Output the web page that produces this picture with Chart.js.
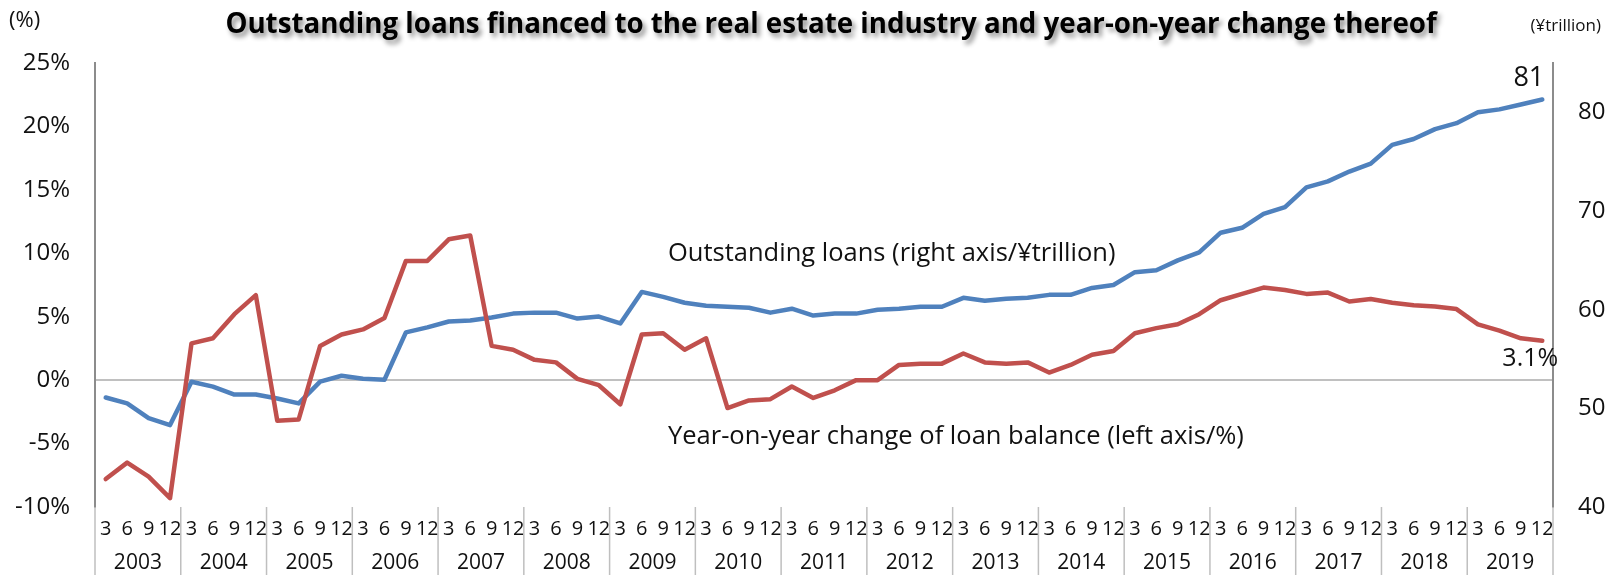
<!DOCTYPE html>
<html>
<head>
<meta charset="utf-8">
<title>Outstanding loans to real estate</title>
<script src="https://cdn.jsdelivr.net/npm/chart.js@4.4.1/dist/chart.umd.min.js"></script>
<style>
  body { margin: 0; background: #fff; }
  #wrap { position: relative; width: 1619px; height: 575px; }
</style>
</head>
<body>
<div id="wrap"><canvas id="loanChart"></canvas></div>
<script>
/* data (quarter ends 3/6/9/12, 2003-2019) */
var years = ['2003','2004','2005','2006','2007','2008','2009','2010','2011','2012','2013','2014','2015','2016','2017','2018','2019'];
var quarters = ['3','6','9','12'];

// year-on-year change of loan balance, % (left axis)
var yoyChange = [
  -7.8, -6.5, -7.6, -9.3,
   2.9,  3.3,  5.2,  6.7,
  -3.2, -3.1,  2.7,  3.6,
   4.0,  4.9,  9.4,  9.4,
  11.1, 11.4,  2.7,  2.4,
   1.6,  1.4,  0.1, -0.4,
  -1.9,  3.6,  3.7,  2.4,
   3.3, -2.2, -1.6, -1.5,
  -0.5, -1.4, -0.8,  0.0,
   0.0,  1.2,  1.3,  1.3,
   2.1,  1.4,  1.3,  1.4,
   0.6,  1.2,  2.0,  2.3,
   3.7,  4.1,  4.4,  5.2,
   6.3,  6.8,  7.3,  7.1,
   6.8,  6.9,  6.2,  6.4,
   6.1,  5.9,  5.8,  5.6,
   4.4,  3.9,  3.3,  3.1
];

// outstanding loans, yen trillion (right axis)
var loanBalance = [
  51.1, 50.5, 49.0, 48.3,
  52.7, 52.2, 51.4, 51.4,
  51.0, 50.5, 52.7, 53.3,
  53.0, 52.9, 57.7, 58.2,
  58.8, 58.9, 59.2, 59.6,
  59.7, 59.7, 59.1, 59.3,
  58.6, 61.8, 61.3, 60.7,
  60.4, 60.3, 60.2, 59.7,
  60.1, 59.4, 59.6, 59.6,
  60.0, 60.1, 60.3, 60.3,
  61.2, 60.9, 61.1, 61.2,
  61.5, 61.5, 62.2, 62.5,
  63.8, 64.0, 65.0, 65.8,
  67.8, 68.3, 69.7, 70.4,
  72.4, 73.0, 74.0, 74.8,
  76.7, 77.3, 78.3, 78.9,
  80.0, 80.3, 80.8, 81.3
];

var labels = [];
years.forEach(function(y) {
  quarters.forEach(function(q) { labels.push(y + '/' + q); });
});

var FONT = '"Open Sans", "Noto Sans", sans-serif';
var RED = '#C0504D';
var BLUE = '#4F81BD';

/* titles, line labels, end values and the two-level x axis */
var decorations = {
  id: 'decorations',
  afterDraw: function(chart) {
    var ctx = chart.ctx;
    var area = chart.chartArea;
    var xs = chart.scales.x;
    var yl = chart.scales.y;
    var yr = chart.scales.y1;
    var last = labels.length - 1;

    ctx.save();

    // title with soft shadow
    ctx.save();
    ctx.font = 'bold 27.7px ' + FONT;
    ctx.fillStyle = '#000';
    ctx.textAlign = 'center';
    ctx.textBaseline = 'middle';
    ctx.shadowColor = 'rgba(0,0,0,0.45)';
    ctx.shadowBlur = 5;
    ctx.shadowOffsetX = 3;
    ctx.shadowOffsetY = 4;
    ctx.fillText('Outstanding loans financed to the real estate industry and year-on-year change thereof', 831, 25);
    ctx.restore();

    // axis units
    ctx.fillStyle = '#111';
    ctx.textBaseline = 'middle';
    ctx.font = '22px ' + FONT;
    ctx.textAlign = 'left';
    ctx.fillText('(%)', 9, 21);
    ctx.font = '17px ' + FONT;
    ctx.textAlign = 'right';
    ctx.fillText('(\u00a5trillion)', 1601, 26);

    // series labels
    ctx.font = '25.5px ' + FONT;
    ctx.textAlign = 'left';
    ctx.fillText('Outstanding loans (right axis/\u00a5trillion)', 668, 254);
    ctx.fillText('Year-on-year change of loan balance (left axis/%)', 668, 437);

    // end values
    var bx = xs.getPixelForValue(last);
    var by = yr.getPixelForValue(loanBalance[last]);
    ctx.font = '27px ' + FONT;
    ctx.textAlign = 'right';
    ctx.textBaseline = 'alphabetic';
    ctx.fillText(String(Math.round(loanBalance[last])), bx + 2, by - 14);
    var ry = yl.getPixelForValue(yoyChange[last]);
    ctx.font = '25px ' + FONT;
    ctx.textAlign = 'center';
    ctx.textBaseline = 'middle';
    ctx.fillText(yoyChange[last].toFixed(1) + '%', bx - 12, ry + 18);

    // two-level category axis
    var h = chart.height;
    ctx.strokeStyle = '#bfbfbf';
    ctx.lineWidth = 1.5;
    ctx.textAlign = 'center';
    ctx.font = '20px ' + FONT;
    for (var i = 0; i < labels.length; i++) {
      ctx.fillText(quarters[i % 4], xs.getPixelForValue(i), 529);
    }
    ctx.font = '21px ' + FONT;
    for (var k = 0; k <= years.length; k++) {
      var sx;
      if (k == 0) sx = area.left;
      else if (k == years.length) sx = area.right;
      else sx = (xs.getPixelForValue(4 * k - 1) + xs.getPixelForValue(4 * k)) / 2;
      ctx.beginPath();
      ctx.moveTo(sx, area.bottom);
      ctx.lineTo(sx, h);
      ctx.stroke();
      if (k < years.length) {
        var cx = (xs.getPixelForValue(4 * k) + xs.getPixelForValue(4 * k + 3)) / 2;
        ctx.fillText(years[k], cx, 563);
      }
    }

    ctx.restore();
  }
};

var chart = new Chart(document.getElementById('loanChart'), {
  type: 'line',
  data: {
    labels: labels,
    datasets: [
      {
        label: 'Year-on-year change of loan balance (left axis/%)',
        data: yoyChange,
        yAxisID: 'y',
        borderColor: RED,
        borderWidth: 4.5
      },
      {
        label: 'Outstanding loans (right axis/\u00a5trillion)',
        data: loanBalance,
        yAxisID: 'y1',
        borderColor: BLUE,
        borderWidth: 4.5
      }
    ]
  },
  options: {
    responsive: true,
    maintainAspectRatio: false,
    animation: false,
    layout: { padding: { top: 63, left: 0, right: 0, bottom: 0 } },
    elements: {
      point: { radius: 0, hoverRadius: 0 },
      line: { tension: 0, borderJoinStyle: 'round', borderCapStyle: 'round', fill: false }
    },
    plugins: {
      legend: { display: false },
      tooltip: { enabled: false },
      title: { display: false }
    },
    scales: {
      x: {
        type: 'category',
        offset: true,
        grid: { display: false },
        border: { display: false },
        ticks: { display: false },
        afterFit: function(s) { s.height = 68; }
      },
      y: {
        position: 'left',
        min: -10,
        max: 25,
        ticks: {
          stepSize: 5,
          padding: 25,
          color: '#111',
          font: { family: FONT, size: 24 },
          callback: function(v) { return v + '%'; }
        },
        grid: {
          drawTicks: false,
          lineWidth: 2,
          color: function(c) { return c.tick && c.tick.value === 0 ? '#c0c0c0' : 'rgba(0,0,0,0)'; }
        },
        border: { display: true, color: '#8c8c8c', width: 2 },
        afterFit: function(s) { s.width = 95; }
      },
      y1: {
        position: 'right',
        min: 40,
        max: 85,
        ticks: {
          stepSize: 10,
          includeBounds: false,
          padding: 25,
          color: '#111',
          font: { family: FONT, size: 24 }
        },
        grid: { drawOnChartArea: false, drawTicks: false },
        border: { display: true, color: '#8c8c8c', width: 2 },
        afterFit: function(s) { s.width = 66; }
      }
    }
  },
  plugins: [decorations]
});
</script>
</body>
</html>
